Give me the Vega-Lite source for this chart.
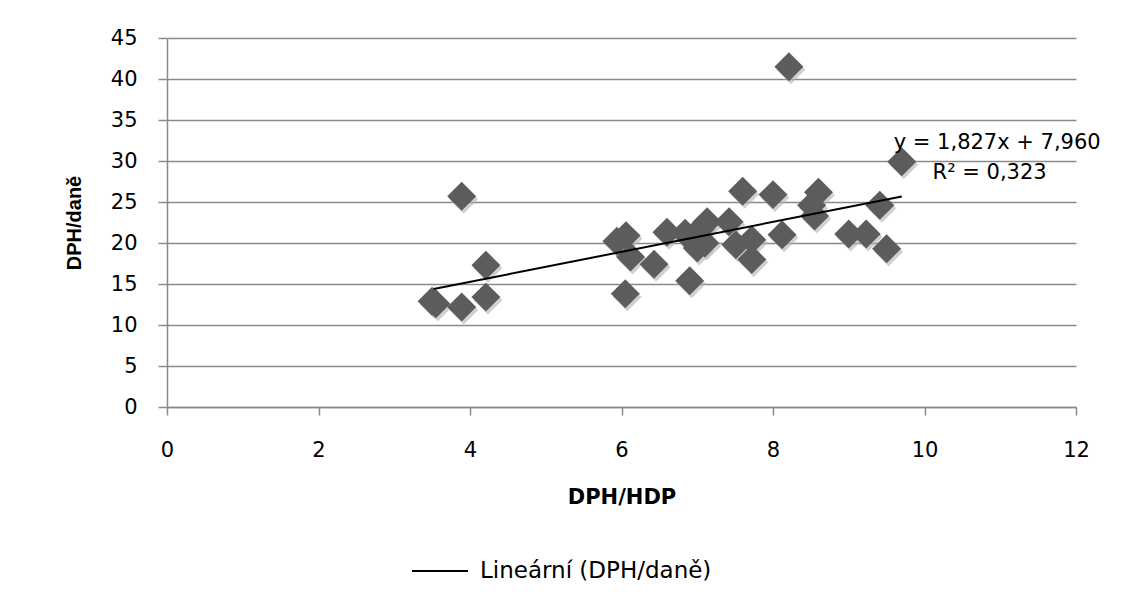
{
  "$schema": "https://vega.github.io/schema/vega-lite/v6.json",
  "autosize": {"type": "none"},
  "width": 909,
  "height": 369,
  "padding": {"left": 167, "top": 38, "right": 48, "bottom": 196},
  "background": "white",
  "config": {
    "view": {"stroke": null}
  },
  "datasets": {
    "points": [
      {"hdp": 3.50, "dane": 12.9},
      {"hdp": 3.55, "dane": 12.6},
      {"hdp": 3.89, "dane": 12.2},
      {"hdp": 4.21, "dane": 17.3},
      {"hdp": 4.21, "dane": 13.4},
      {"hdp": 3.89, "dane": 25.7},
      {"hdp": 6.05, "dane": 13.8},
      {"hdp": 5.94, "dane": 20.2},
      {"hdp": 6.06, "dane": 20.9},
      {"hdp": 6.12, "dane": 18.3},
      {"hdp": 6.43, "dane": 17.4},
      {"hdp": 6.90, "dane": 15.4},
      {"hdp": 6.60, "dane": 21.3},
      {"hdp": 6.84, "dane": 21.2},
      {"hdp": 7.04, "dane": 21.7},
      {"hdp": 7.13, "dane": 22.6},
      {"hdp": 7.00, "dane": 19.4},
      {"hdp": 7.10, "dane": 20.0},
      {"hdp": 7.42, "dane": 22.6},
      {"hdp": 7.51, "dane": 19.8},
      {"hdp": 7.60, "dane": 26.3},
      {"hdp": 7.72, "dane": 20.4},
      {"hdp": 7.72, "dane": 18.0},
      {"hdp": 8.00, "dane": 25.9},
      {"hdp": 8.12, "dane": 21.0},
      {"hdp": 8.21, "dane": 41.5},
      {"hdp": 8.51, "dane": 24.6},
      {"hdp": 8.55, "dane": 23.3},
      {"hdp": 8.60, "dane": 26.2},
      {"hdp": 9.00, "dane": 21.1},
      {"hdp": 9.23, "dane": 21.1},
      {"hdp": 9.41, "dane": 24.6},
      {"hdp": 9.50, "dane": 19.3},
      {"hdp": 9.70, "dane": 29.9}
    ],
    "trend": [
      {"hdp": 3.52, "dane": 14.39, "series": "Lineární (DPH/daně)"},
      {"hdp": 9.70, "dane": 25.68, "series": "Lineární (DPH/daně)"}
    ],
    "notes": [
      {"hdp": 10.96, "dane": 32.2, "text": "y = 1,827x + 7,960"},
      {"hdp": 10.86, "dane": 28.5, "text": "R² = 0,323"}
    ]
  },
  "layer": [
    {
      "data": {"name": "points"},
      "mark": {"type": "point", "shape": "diamond", "size": 840, "filled": true, "color": "#b0b0b0", "opacity": 0.6, "xOffset": 2, "yOffset": 3},
      "encoding": {
        "x": {"field": "hdp", "type": "quantitative", "scale": {"domain": [0, 12]},
          "axis": {"values": [0, 2, 4, 6, 8, 10, 12], "format": "d", "grid": false, "tickSize": 8, "labelPadding": 24, "labelFlush": false,
            "domainColor": "#8a8a8a", "domainWidth": 1.5, "tickColor": "#8a8a8a", "tickWidth": 1.5,
            "labelFont": "DejaVu Sans", "labelFontSize": 21, "labelColor": "#000",
            "title": "DPH/HDP", "titleColor": "#000", "titleFont": "DejaVu Sans", "titleFontSize": 21, "titleFontWeight": "bold", "titlePadding": 26}},
        "y": {"field": "dane", "type": "quantitative", "scale": {"domain": [0, 45]},
          "axis": {"values": [0, 5, 10, 15, 20, 25, 30, 35, 40, 45], "format": "d", "grid": true, "tickSize": 9, "labelPadding": 21, "labelFlush": false,
            "gridColor": "#8a8a8a", "gridWidth": 1.5,
            "domainColor": "#8a8a8a", "domainWidth": 1.5, "tickColor": "#8a8a8a", "tickWidth": 1.5,
            "labelFont": "DejaVu Sans", "labelFontSize": 21, "labelColor": "#000",
            "title": "DPH/daně", "titleColor": "#000", "titleFont": "Liberation Sans", "titleFontSize": 20, "titleFontWeight": "bold", "titlePadding": 26}}
      }
    },
    {
      "data": {"name": "points"},
      "mark": {"type": "point", "shape": "diamond", "size": 840, "filled": true, "color": "#5c5c5c", "opacity": 1},
      "encoding": {
        "x": {"field": "hdp", "type": "quantitative"},
        "y": {"field": "dane", "type": "quantitative"}
      }
    },
    {
      "data": {"name": "trend"},
      "mark": {"type": "line", "strokeWidth": 2},
      "encoding": {
        "x": {"field": "hdp", "type": "quantitative"},
        "y": {"field": "dane", "type": "quantitative"},
        "color": {"field": "series", "type": "nominal", "scale": {"range": ["#000000"]},
          "legend": {"title": null, "orient": "none", "legendX": 244, "legendY": 504, "symbolType": "stroke",
            "symbolSize": 3136, "symbolStrokeWidth": 2, "labelFont": "DejaVu Sans", "labelFontSize": 23, "labelColor": "#000",
            "labelOffset": 11, "labelLimit": 0, "padding": 0}}
      }
    },
    {
      "data": {"name": "notes"},
      "mark": {"type": "text", "font": "DejaVu Sans", "fontSize": 21, "color": "#000", "align": "center", "baseline": "middle"},
      "encoding": {
        "x": {"field": "hdp", "type": "quantitative"},
        "y": {"field": "dane", "type": "quantitative"},
        "text": {"field": "text"}
      }
    }
  ]
}
